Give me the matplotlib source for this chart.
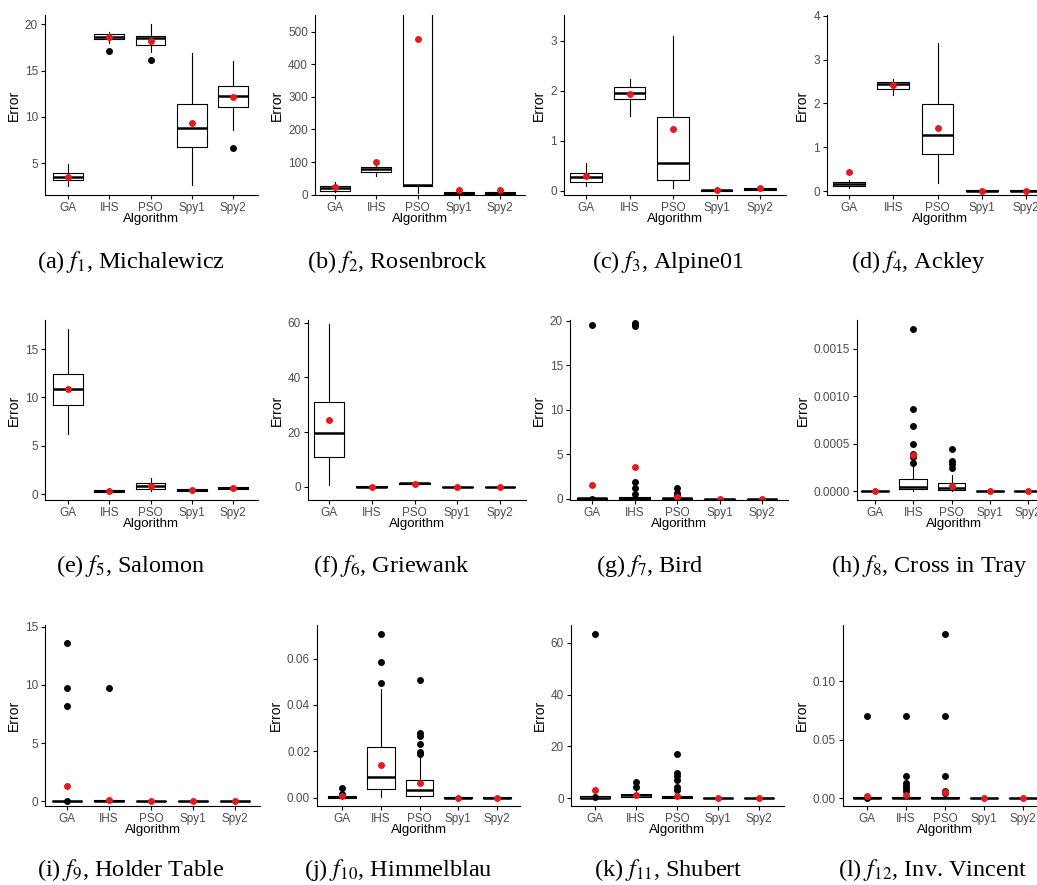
import matplotlib
matplotlib.use('Agg')
import matplotlib.pyplot as plt

plt.rcParams['font.family'] = ['Liberation Sans', 'DejaVu Sans']
plt.rcParams['mathtext.fontset'] = 'stix'

algorithms = ['GA', 'IHS', 'PSO', 'Spy1', 'Spy2']

captions = ['(a) $f_{1}$, Michalewicz', '(b) $f_{2}$, Rosenbrock', '(c) $f_{3}$, Alpine01',
            '(d) $f_{4}$, Ackley', '(e) $f_{5}$, Salomon', '(f) $f_{6}$, Griewank',
            '(g) $f_{7}$, Bird', '(h) $f_{8}$, Cross in Tray', '(i) $f_{9}$, Holder Table',
            '(j) $f_{10}$, Himmelblau', '(k) $f_{11}$, Shubert', '(l) $f_{12}$, Inv. Vincent']

# box stats per algorithm: (whisker low, q1, median, q3, whisker high)
f1_box = [(2.55, 3.2, 3.56, 4.0, 4.9), (17.95, 18.4, 18.67, 18.92, 19.2),
          (17.05, 17.77, 18.56, 18.74, 20.0), (2.66, 6.76, 8.81, 11.44, 16.94),
          (8.6, 11.08, 12.23, 13.35, 16.0)]
f1_mean = [3.5, 18.62, 18.24, 9.32, 12.16]
f1_out = [[], [17.16], [16.15], [], [6.65]]

f2_box = [(7, 12.2, 19.3, 27.4, 39.6), (58, 70, 78, 86.4, 95),
          (5, 28, 31, 900, 2000), (0, 2, 5, 8, 12), (0, 2, 5, 8, 12)]
f2_mean = [22.4, 100.6, 476.6, 15, 15]
f2_out = [[], [], [], [], []]

f3_box = [(0.1, 0.17, 0.27, 0.35, 0.55), (1.5, 1.83, 1.96, 2.07, 2.24),
          (0.05, 0.21, 0.56, 1.47, 3.09), (0.0, 0.0, 0.01, 0.02, 0.03),
          (0.01, 0.02, 0.04, 0.05, 0.07)]
f3_mean = [0.3, 1.94, 1.23, 0.01, 0.06]
f3_out = [[], [], [], [], []]

f4_box = [(0.08, 0.12, 0.16, 0.21, 0.25), (2.19, 2.33, 2.44, 2.49, 2.55),
          (0.19, 0.84, 1.28, 1.99, 3.38), (0.0, 0.0, 0.01, 0.02, 0.03),
          (0.0, 0.0, 0.01, 0.02, 0.03)]
f4_mean = [0.43, 2.42, 1.43, 0.01, 0.01]
f4_out = [[], [], [], [], []]

f5_box = [(6.17, 9.17, 10.83, 12.45, 17.03), (0.2, 0.25, 0.33, 0.4, 0.45),
          (0.34, 0.55, 0.83, 1.1, 1.62), (0.3, 0.35, 0.45, 0.5, 0.55),
          (0.5, 0.55, 0.62, 0.7, 0.75)]
f5_mean = [10.9, 0.28, 0.8, 0.4, 0.6]
f5_out = [[], [], [], [], []]

f6_box = [(0.6, 10.8, 19.6, 31.1, 59.6), (0.0, 0.05, 0.1, 0.15, 0.2),
          (1.0, 1.1, 1.3, 1.5, 1.6), (0.0, 0.02, 0.05, 0.08, 0.1),
          (0.0, 0.02, 0.05, 0.08, 0.1)]
f6_mean = [24.6, 0.0, 1.0, 0.0, 0.0]
f6_out = [[], [], [], [], []]

f7_box = [(0.0, 0.0, 0.05, 0.1, 0.12), (0.0, 0.0, 0.1, 0.2, 0.25),
          (0.0, 0.0, 0.05, 0.1, 0.15), (0.0, 0.0, 0.0, 0.01, 0.01),
          (0.0, 0.0, 0.0, 0.01, 0.01)]
f7_mean = [1.55, 3.55, 0.2, 0.0, 0.0]
f7_out = [[19.5, 0.0], [19.45, 19.6, 19.75, 1.9, 1.16, 0.49], [1.15, 0.6, 0.4], [], []]

f8_box = [(0.0, 0.0, 0.0, 0.000005, 0.000008), (0.0, 0.0000176, 0.0000458, 0.000123, 0.000257),
          (0.0, 0.0000106, 0.0000282, 0.000081, 0.000169), (0.0, 0.0, 0.0, 0.000003, 0.000005),
          (0.0, 0.0, 0.0, 0.000003, 0.000005)]
f8_mean = [0.0, 0.00038, 0.0000563, 0.0, 0.0]
f8_out = [[], [0.001708, 0.000866, 0.000687, 0.000497, 0.000391, 0.000356, 0.000299],
          [0.000444, 0.000317, 0.000285, 0.000239], [], []]

f9_box = [(0.0, 0.0, 0.02, 0.05, 0.08), (0.0, 0.0, 0.05, 0.1, 0.15),
          (0.0, 0.0, 0.0, 0.01, 0.02), (0.0, 0.0, 0.0, 0.01, 0.02),
          (0.0, 0.0, 0.0, 0.01, 0.02)]
f9_mean = [1.31, 0.15, 0.0, 0.0, 0.0]
f9_out = [[13.56, 9.69, 8.15, 0.0], [9.71], [], [], []]

f10_box = [(0.0, 0.0, 0.0003, 0.0005, 0.0008), (0.0004, 0.0039, 0.0091, 0.0219, 0.0468),
           (0.0, 0.0007, 0.0033, 0.0076, 0.0184), (0.0, 0.0, 0.0, 0.0001, 0.0002),
           (0.0, 0.0, 0.0, 0.0001, 0.0002)]
f10_mean = [0.0006, 0.0141, 0.0062, 0.0, 0.0]
f10_out = [[0.004, 0.0015], [0.0705, 0.0584, 0.0496],
           [0.0508, 0.0281, 0.0266, 0.0232, 0.0199, 0.0188], [], []]

f11_box = [(0.0, 0.0, 0.3, 1.0, 1.5), (0.0, 0.5, 1.2, 1.8, 2.8),
           (0.0, 0.1, 0.5, 1.0, 2.4), (0.0, 0.0, 0.0, 0.1, 0.2),
           (0.0, 0.0, 0.0, 0.1, 0.2)]
f11_mean = [3.2, 1.3, 0.9, 0.0, 0.0]
f11_out = [[63.2, 0.4], [6.4, 4.5], [17.1, 9.6, 8.6, 7.1, 4.2, 3.2], [], []]

f12_box = [(0.0, 0.0, 0.0, 0.001, 0.0015), (0.0, 0.0, 0.0, 0.001, 0.0015),
           (0.0, 0.0, 0.0, 0.0008, 0.0012), (0.0, 0.0, 0.0, 0.0002, 0.0003),
           (0.0, 0.0, 0.0, 0.0002, 0.0003)]
f12_mean = [0.0017, 0.0026, 0.0054, 0.0, 0.0]
f12_out = [[0.0704, 0.0003], [0.0704, 0.0188, 0.0125, 0.0103, 0.0083, 0.006],
           [0.1399, 0.0704, 0.0188, 0.006, 0.004], [], []]

yticks = [[5, 10, 15, 20], [0, 100, 200, 300, 400, 500], [0, 1, 2, 3], [0, 1, 2, 3, 4],
          [0, 5, 10, 15], [0, 20, 40, 60], [0, 5, 10, 15, 20], [0, 0.0005, 0.001, 0.0015],
          [0, 5, 10, 15], [0, 0.02, 0.04, 0.06], [0, 20, 40, 60], [0, 0.05, 0.10]]
ytick_labels = [['5', '10', '15', '20'], ['0', '100', '200', '300', '400', '500'],
                ['0', '1', '2', '3'], ['0', '1', '2', '3', '4'], ['0', '5', '10', '15'],
                ['0', '20', '40', '60'], ['0', '5', '10', '15', '20'],
                ['0.0000', '0.0005', '0.0010', '0.0015'], ['0', '5', '10', '15'],
                ['0.00', '0.02', '0.04', '0.06'], ['0', '20', '40', '60'],
                ['0.00', '0.05', '0.10']]
ylims = [(1.58, 21.0), (-1, 551), (-0.087, 3.52), (-0.09, 4.02), (-0.62, 18.0),
         (-4.8, 61.0), (-0.15, 20.07), (-0.000095, 0.001806), (-0.4, 15.13),
         (-0.0036, 0.0745), (-2.95, 66.8), (-0.0068, 0.148)]

boxes = [f1_box, f2_box, f3_box, f4_box, f5_box, f6_box, f7_box, f8_box, f9_box, f10_box, f11_box, f12_box]
means = [f1_mean, f2_mean, f3_mean, f4_mean, f5_mean, f6_mean, f7_mean, f8_mean, f9_mean, f10_mean, f11_mean, f12_mean]
outs = [f1_out, f2_out, f3_out, f4_out, f5_out, f6_out, f7_out, f8_out, f9_out, f10_out, f11_out, f12_out]

# pixel layout: y-axis x, GA x, Spy2 x, top y, bottom y
layout = [(45, 68, 233, 15, 195), (315, 335, 500, 15, 195), (564, 586, 760, 15, 195),
          (827, 849, 1026, 15, 195), (45, 68, 233, 320, 500), (308, 329, 500, 320, 500),
          (570, 592, 762, 320, 500), (857, 875, 1028, 320, 500), (45, 67, 235, 625, 806),
          (317, 342, 497, 625, 806), (571, 595, 759, 625, 806), (843, 867, 1023, 625, 806)]
cap_pos = [(131, 262), (397, 262), (668, 262), (918, 262), (131, 566), (391, 566),
           (650, 566), (929, 566), (131, 870), (398, 870), (668, 870), (933, 870)]

W, H = 1037, 885
fig = plt.figure(figsize=(W / 100, H / 100), dpi=100)

for i in range(12):
    left, ga, spy2, top, bot = layout[i]
    unit = (spy2 - ga) / 4
    xl = 1 - (ga - left) / unit
    xr = 5.6
    ax = fig.add_axes([left / W, 1 - bot / H, (xr - xl) * unit / W, (bot - top) / H])

    stats = []
    for j, name in enumerate(algorithms):
        lo, q1, med, q3, hi = boxes[i][j]
        stats.append(dict(label=name, whislo=lo, q1=q1, med=med, q3=q3, whishi=hi,
                          mean=means[i][j], fliers=outs[i][j]))
    ax.bxp(stats, positions=range(1, 6), widths=0.72, showmeans=True, showcaps=False,
           boxprops=dict(color='black', linewidth=0.8),
           whiskerprops=dict(color='black', linewidth=0.8),
           medianprops=dict(color='black', linewidth=1.8),
           flierprops=dict(marker='o', markerfacecolor='black', markeredgecolor='none',
                           markersize=5),
           meanprops=dict(marker='o', markerfacecolor='#E41A1C', markeredgecolor='none',
                          markersize=5))

    ax.set_xlim(xl, xr)
    ax.set_ylim(*ylims[i])
    ax.set_yticks(yticks[i])
    ax.set_yticklabels(ytick_labels[i])
    ax.set_xticks(range(1, 6))
    ax.set_xticklabels(algorithms)
    for s in ['top', 'right']:
        ax.spines[s].set_visible(False)
    for s in ['left', 'bottom']:
        ax.spines[s].set_linewidth(0.8)
    ax.tick_params(length=3, width=0.8, color='black', labelcolor='#4D4D4D',
                   labelsize=8.5, pad=2)
    ax.set_ylabel('Error', fontsize=10, labelpad=3)
    ax.set_xlabel('Algorithm', fontsize=9.5, labelpad=-1)

    cx, cy = cap_pos[i]
    fig.text(cx / W, 1 - cy / H, captions[i], ha='center', va='center', fontsize=17.5,
             family='Liberation Serif')

fig.savefig('out.png', dpi=100)
